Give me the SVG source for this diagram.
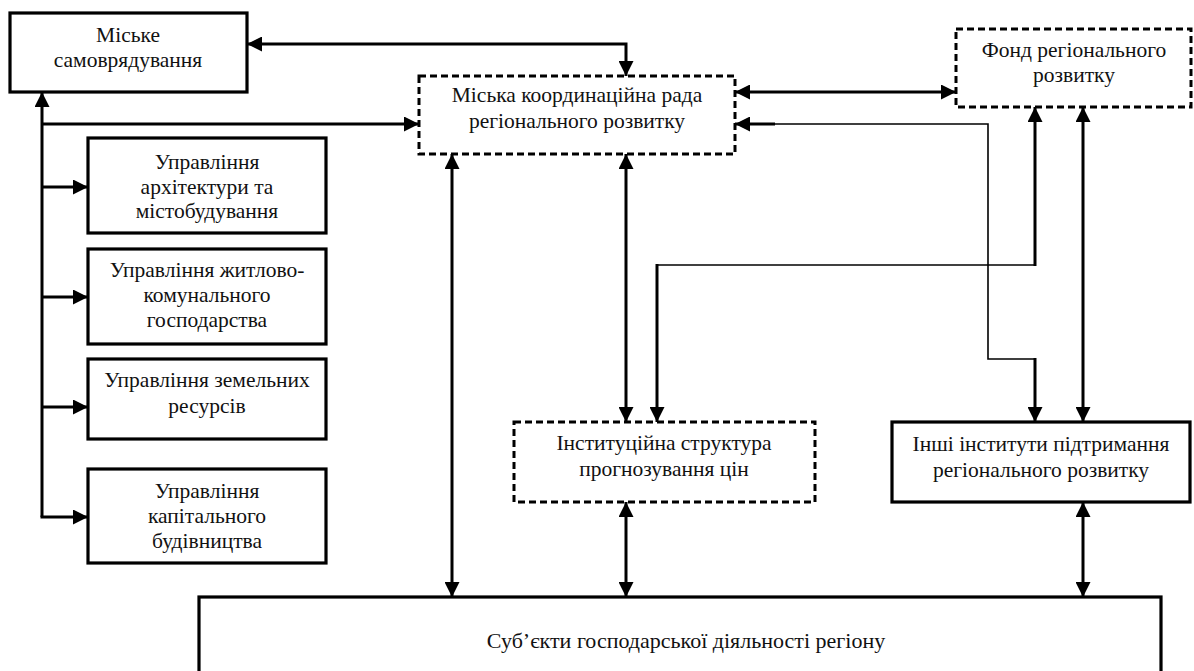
<svg xmlns="http://www.w3.org/2000/svg" width="1194" height="671" viewBox="0 0 1194 671">
<defs>
<marker id="ah" markerUnits="userSpaceOnUse" markerWidth="15" markerHeight="15" viewBox="0 0 15 15" refX="15" refY="7.5" orient="auto-start-reverse">
<path d="M0,0 L15,7.5 L0,15 z" fill="#000"/>
</marker>
<style>
.box{fill:#fff;stroke:#000;stroke-width:3.2}
.dbox{fill:#fff;stroke:#000;stroke-width:3;stroke-dasharray:7 4}
.t{font-family:"Liberation Serif","Times New Roman",serif;font-size:21.5px;fill:#111;text-anchor:middle}
.c{fill:none;stroke:#000;stroke-width:3}
.thin{fill:none;stroke:#000;stroke-width:1.6}
</style>
</defs>
<rect width="1194" height="671" fill="#fff"/>
<g id="connectors">
<path class="c" d="M247,44 H626 V76" marker-start="url(#ah)" marker-end="url(#ah)"/>
<path class="c" d="M42,92 V517" marker-start="url(#ah)"/>
<path class="c" d="M42,124 H419" marker-end="url(#ah)"/>
<path class="c" d="M42,187 H88" marker-end="url(#ah)"/>
<path class="c" d="M42,297 H88" marker-end="url(#ah)"/>
<path class="c" d="M42,407 H88" marker-end="url(#ah)"/>
<path class="c" d="M40.5,517 H88" marker-end="url(#ah)"/>
<path class="c" d="M735,92 H956" marker-start="url(#ah)" marker-end="url(#ah)"/>
<path class="c" d="M735,124 H775" marker-start="url(#ah)"/>
<path class="thin" d="M775,124 H988 V359 H1035"/>
<path class="c" d="M1035,358 V422" marker-end="url(#ah)"/>
<path class="c" d="M1035,107 V266" marker-start="url(#ah)"/>
<path class="thin" d="M1035,265 H657"/>
<path class="c" d="M657,264 V422" marker-end="url(#ah)"/>
<path class="c" d="M1083,107 V422" marker-start="url(#ah)" marker-end="url(#ah)"/>
<path class="c" d="M452,154 V597" marker-start="url(#ah)" marker-end="url(#ah)"/>
<path class="c" d="M626,154 V422" marker-start="url(#ah)" marker-end="url(#ah)"/>
<path class="c" d="M626,502 V597" marker-start="url(#ah)" marker-end="url(#ah)"/>
<path class="c" d="M1083,502 V597" marker-start="url(#ah)" marker-end="url(#ah)"/>
</g>
<g id="n-samovr">
<rect class="box" x="10" y="13" width="237" height="79"/>
<text class="t" x="128" y="42">Міське</text>
<text class="t" x="128" y="67">самоврядування</text>
</g>
<g id="n-rada">
<rect class="dbox" x="419" y="76" width="316" height="78"/>
<text class="t" x="577" y="102">Міська координаційна рада</text>
<text class="t" x="577" y="128">регіонального розвитку</text>
</g>
<g id="n-fond">
<rect class="dbox" x="956" y="29" width="235" height="78"/>
<text class="t" x="1074" y="57">Фонд регіонального</text>
<text class="t" x="1074" y="82">розвитку</text>
</g>
<g id="n-arch">
<rect class="box" x="88" y="138" width="238" height="95"/>
<text class="t" x="207" y="169">Управління</text>
<text class="t" x="207" y="194">архітектури та</text>
<text class="t" x="207" y="218">містобудування</text>
</g>
<g id="n-zhkg">
<rect class="box" x="88" y="249" width="238" height="95"/>
<text class="t" x="207" y="277">Управління житлово-</text>
<text class="t" x="207" y="302">комунального</text>
<text class="t" x="207" y="327">господарства</text>
</g>
<g id="n-zem">
<rect class="box" x="88" y="359" width="238" height="80"/>
<text class="t" x="207" y="387">Управління земельних</text>
<text class="t" x="207" y="413">ресурсів</text>
</g>
<g id="n-kap">
<rect class="box" x="88" y="469" width="238" height="94"/>
<text class="t" x="207" y="498">Управління</text>
<text class="t" x="207" y="523">капітального</text>
<text class="t" x="207" y="548">будівництва</text>
</g>
<g id="n-inst">
<rect class="dbox" x="514" y="422" width="301" height="80"/>
<text class="t" x="664" y="450">Інституційна структура</text>
<text class="t" x="664" y="476">прогнозування цін</text>
</g>
<g id="n-inshi">
<rect class="box" x="892" y="422" width="298" height="80"/>
<text class="t" x="1041" y="451">Інші інститути підтримання</text>
<text class="t" x="1041" y="477">регіонального розвитку</text>
</g>
<g id="n-subj">
<rect class="box" x="199" y="597" width="962" height="100"/>
<text class="t" x="686" y="648" style="font-size:22px">Суб’єкти господарської діяльності регіону</text>
</g>
</svg>
